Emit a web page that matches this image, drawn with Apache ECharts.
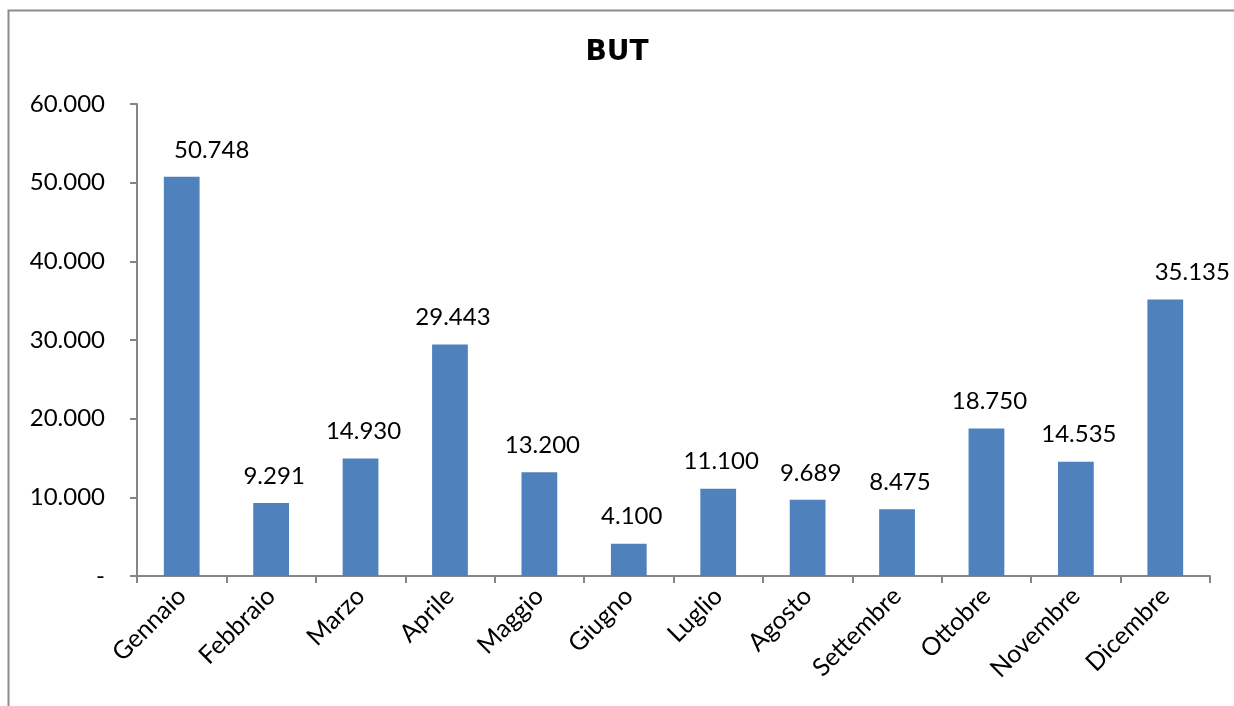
<!DOCTYPE html>
<html>
<head>
<meta charset="utf-8">
<script src="https://cdn.jsdelivr.net/npm/echarts@6/dist/echarts.min.js"></script>
<style>
  html, body { margin: 0; padding: 0; background: #fff; }
  #chart { width: 1234px; height: 706px; }
</style>
</head>
<body>
<div id="chart"></div>
<script>
// mesi e valori BUT
var months = ['Gennaio', 'Febbraio', 'Marzo', 'Aprile', 'Maggio', 'Giugno',
  'Luglio', 'Agosto', 'Settembre', 'Ottobre', 'Novembre', 'Dicembre'];
var values = [50748, 9291, 14930, 29443, 13200, 4100, 11100, 9689, 8475, 18750, 14535, 35135];

function fmt(v) {
  if (v === 0) return '-';
  return String(v).replace(/\B(?=(\d{3})+(?!\d))/g, '.');
}

var font = 'Lato, "Open Sans", sans-serif';
var axisColor = '#868686';

// etichette spostate a mano (come nel grafico originale)
var labelShift = { 0: 30, 11: 27 };

var chart = echarts.init(document.getElementById('chart'));
chart.setOption({
  animation: false,
  title: {
    text: 'BUT',
    left: 'center',
    top: 34,
    textStyle: { fontFamily: '"DejaVu Sans", sans-serif', fontSize: 28, fontWeight: 'bold', color: '#000' }
  },
  graphic: [{
    type: 'rect',
    shape: { x: 8.5, y: 10.5, width: 1300, height: 800 },
    style: { fill: 'none', stroke: '#8c8c8c', lineWidth: 2 },
    silent: true
  }],
  grid: { left: 137, right: 24, top: 104, bottom: 130 },
  xAxis: {
    type: 'category',
    data: months,
    axisLine: { lineStyle: { color: axisColor, width: 2 } },
    axisTick: { show: true, length: 7, lineStyle: { color: axisColor, width: 2 } },
    axisLabel: { rotate: 45, interval: 0, margin: 16, fontFamily: font, fontSize: 25, color: '#000' }
  },
  yAxis: {
    type: 'value',
    min: 0,
    max: 60000,
    interval: 10000,
    splitLine: { show: false },
    axisLine: { show: true, lineStyle: { color: axisColor, width: 2 } },
    axisTick: { show: true, length: 7, lineStyle: { color: axisColor, width: 2 } },
    axisLabel: { margin: 32, fontFamily: font, fontSize: 24, color: '#000', formatter: fmt }
  },
  series: [{
    type: 'bar',
    data: values.map(function (v, i) {
      return { value: v, label: { offset: [labelShift[i] || 3, 0] } };
    }),
    barWidth: '40%',
    itemStyle: { color: '#4f81bd' },
    label: {
      show: true,
      position: 'top',
      distance: 15,
      fontFamily: font,
      fontSize: 24,
      color: '#000',
      formatter: function (p) { return fmt(p.value); }
    }
  }]
});
</script>
</body>
</html>
